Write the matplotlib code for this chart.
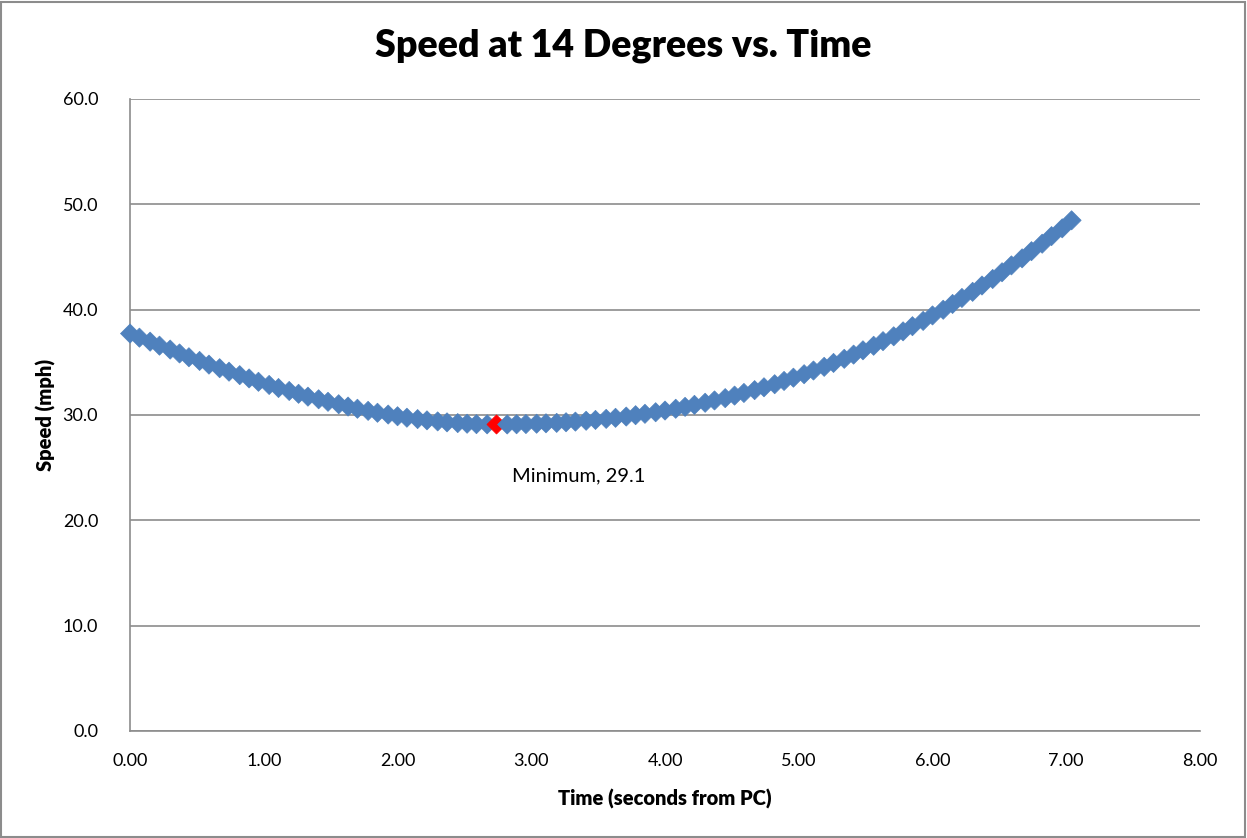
import numpy as np
import matplotlib.pyplot as plt
from matplotlib.patches import Rectangle

# czas (s od PC) i predkosc (mph)
czas = [0.00, 0.07, 0.15, 0.22, 0.30, 0.37, 0.44, 0.52, 0.59, 0.67, 0.74, 0.82,
        0.89, 0.96, 1.04, 1.11, 1.19, 1.26, 1.33, 1.41, 1.48, 1.56, 1.63, 1.70,
        1.78, 1.85, 1.93, 2.00, 2.07, 2.15, 2.22, 2.30, 2.37, 2.45, 2.52, 2.59,
        2.67, 2.74, 2.82, 2.89, 2.96, 3.04, 3.11, 3.19, 3.26, 3.33, 3.41, 3.48,
        3.56, 3.63, 3.71, 3.78, 3.85, 3.93, 4.00, 4.08, 4.15, 4.22, 4.30, 4.37,
        4.45, 4.52, 4.59, 4.67, 4.74, 4.82, 4.89, 4.96, 5.04, 5.11, 5.19, 5.26,
        5.34, 5.41, 5.48, 5.56, 5.63, 5.71, 5.78, 5.85, 5.93, 6.00, 6.08, 6.15,
        6.22, 6.30, 6.37, 6.45, 6.52, 6.59, 6.67, 6.74, 6.82, 6.89, 6.97, 7.04]
predkosc = [37.73, 37.34, 36.96, 36.58, 36.21, 35.84, 35.48, 35.13, 34.78, 34.44,
            34.11, 33.78, 33.47, 33.15, 32.85, 32.56, 32.28, 32.01, 31.74, 31.49,
            31.25, 31.02, 30.80, 30.59, 30.39, 30.21, 30.04, 29.88, 29.74, 29.61,
            29.49, 29.39, 29.30, 29.23, 29.17, 29.13, 29.11, 29.10, 29.10, 29.12,
            29.14, 29.17, 29.21, 29.25, 29.31, 29.37, 29.45, 29.53, 29.63, 29.73,
            29.85, 29.98, 30.11, 30.26, 30.42, 30.59, 30.77, 30.96, 31.16, 31.38,
            31.60, 31.84, 32.09, 32.36, 32.63, 32.92, 33.23, 33.54, 33.87, 34.22,
            34.57, 34.94, 35.33, 35.73, 36.14, 36.57, 37.01, 37.47, 37.94, 38.43,
            38.93, 39.45, 39.99, 40.54, 41.11, 41.69, 42.29, 42.91, 43.55, 44.20,
            44.87, 45.55, 46.26, 46.98, 47.72, 48.48]
etykieta_min = "Minimum, 29.1"

x_ticks = [0, 1, 2, 3, 4, 5, 6, 7, 8]
y_ticks = [0, 10, 20, 30, 40, 50, 60]

plt.rcParams['font.family'] = ['Lato', 'DejaVu Sans']

niebieski = '#4F81BD'
szary = '#8C8C8C'

fig = plt.figure(figsize=(12.47, 8.38), dpi=100)
ax = fig.add_axes([0.1043, 0.1277, 0.858, 0.7542])

# punkt minimalny zaznaczony na czerwono
i_min = int(np.argmin(predkosc))
kolory = ['red' if i == i_min else niebieski for i in range(len(czas))]
ax.scatter(czas, predkosc, marker='D', s=95, c=kolory, edgecolors=kolory,
           linewidths=0.5, zorder=3, clip_on=False)

ax.annotate(etykieta_min, (czas[i_min], predkosc[i_min]), xytext=(11, -37),
            textcoords='offset points', ha='left', va='center', fontsize=14.5,
            color='black')

ax.set_xlim(0, 8)
ax.set_ylim(0, 60)
ax.set_xticks(x_ticks)
ax.set_yticks(y_ticks)
ax.set_xticklabels([f'{v:.2f}' for v in x_ticks])
ax.set_yticklabels([f'{v:.1f}' for v in y_ticks])
ax.tick_params(axis='both', length=0, labelsize=13)
ax.tick_params(axis='y', pad=23)
ax.tick_params(axis='x', pad=16)

ax.yaxis.grid(True, color=szary, linewidth=1.2)
ax.set_axisbelow(True)
for s in ['top', 'right']:
    ax.spines[s].set_visible(False)
for s in ['left', 'bottom']:
    ax.spines[s].set_color(szary)
    ax.spines[s].set_linewidth(1.2)

# tytul wysrodkowany wzgledem calej figury
fig.text(0.5, 0.946, 'Speed at 14 Degrees vs. Time', fontsize=27, fontweight='heavy',
         ha='center', va='center')
ax.set_xlabel('Time (seconds from PC)', fontsize=14.5, fontweight='heavy', labelpad=14)
ax.set_ylabel('Speed (mph)', fontsize=14.5, fontweight='heavy', labelpad=5)

# ramka wokol calego wykresu
fig.patches.append(Rectangle((0.001, 0.001), 0.997, 0.997, transform=fig.transFigure,
                             fill=False, edgecolor=szary, linewidth=1.5))

fig.savefig('out.png', dpi=100)
